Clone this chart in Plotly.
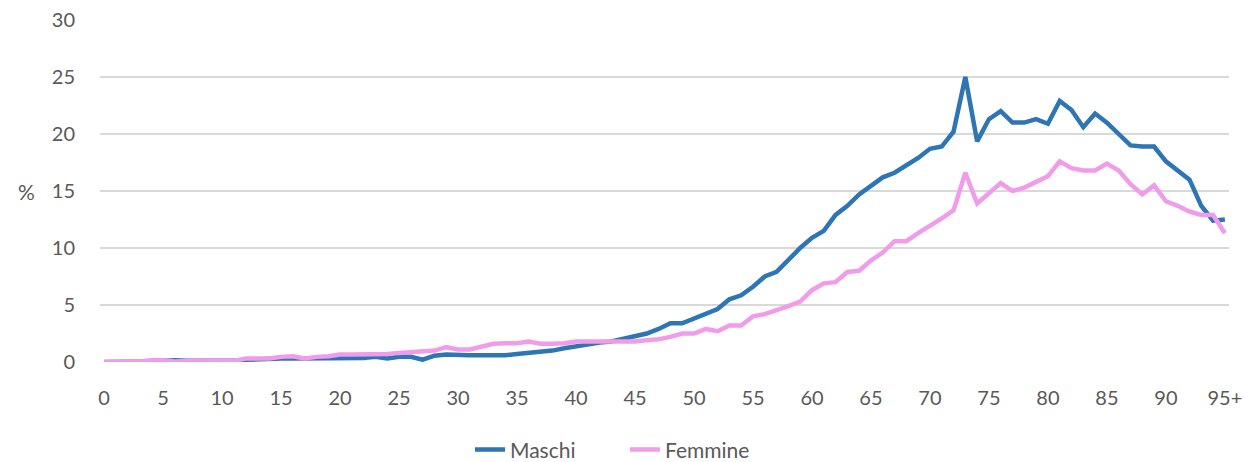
import plotly.graph_objects as go

ages = list(range(0, 96))
tick_vals = list(range(0, 96, 5))
tick_text = [str(v) for v in range(0, 95, 5)] + ["95+"]

maschi = [0, 0, 0, 0, 0.05, 0.1, 0.15, 0.1, 0.1, 0.1,
          0.1, 0.1, 0.2, 0.25, 0.25, 0.3, 0.3, 0.3, 0.35, 0.3,
          0.3, 0.3, 0.35, 0.45, 0.3, 0.45, 0.45, 0.2, 0.55, 0.65,
          0.6, 0.6, 0.6, 0.6, 0.6, 0.7, 0.8, 0.9, 1.0, 1.2,
          1.4, 1.5, 1.7, 1.8, 2.0, 2.3, 2.5, 2.9, 3.4, 3.4,
          3.8, 4.3, 4.65, 5.5, 5.85, 6.6, 7.5, 7.9, 9.0, 10.0,
          10.9, 11.5, 12.9, 13.7, 14.7, 15.5, 16.2, 16.6, 17.2, 17.9,
          18.7, 18.9, 20.2, 25.0, 19.35, 21.3, 22.0, 21.0, 21.0, 21.3,
          20.9, 22.9, 22.1, 20.6, 21.8, 21.0, 20.0, 19.0, 18.9, 18.9,
          17.6, 16.8, 16.0, 13.7, 12.4, 12.5]

femmine = [0, 0, 0, 0.05, 0.15, 0.15, 0.05, 0.1, 0.1, 0.1,
           0.1, 0.1, 0.3, 0.3, 0.3, 0.45, 0.5, 0.3, 0.45, 0.5,
           0.65, 0.65, 0.65, 0.65, 0.7, 0.8, 0.85, 0.95, 1.0, 1.3,
           1.1, 1.1, 1.4, 1.6, 1.65, 1.65, 1.8, 1.6, 1.6, 1.65,
           1.8, 1.8, 1.8, 1.8, 1.8, 1.8, 1.9, 2.0, 2.2, 2.5,
           2.5, 2.9, 2.7, 3.2, 3.2, 4.0, 4.2, 4.5, 4.9, 5.3,
           6.3, 6.9, 7.0, 7.9, 8.0, 8.9, 9.6, 10.6, 10.6, 11.3,
           11.9, 12.6, 13.3, 16.6, 13.9, 14.8, 15.7, 15.0, 15.3, 15.8,
           16.3, 17.6, 17.0, 16.8, 16.8, 17.4, 16.8, 15.6, 14.7, 15.5,
           14.1, 13.7, 13.2, 12.9, 12.9, 11.3]

FONT = "Lato, 'Open Sans', sans-serif"
GREY = "#595959"

fig = go.Figure()
fig.add_trace(go.Scatter(x=ages, y=maschi, mode="lines", name="Maschi",
                         line=dict(color="#2E75B6", width=4.5)))
fig.add_trace(go.Scatter(x=ages, y=femmine, mode="lines", name="Femmine",
                         line=dict(color="#F19CEA", width=4.5)))

fig.update_layout(
    width=1245, height=462,
    margin=dict(l=100, r=16, t=20, b=100, autoexpand=False),
    paper_bgcolor="white", plot_bgcolor="white",
    font=dict(family=FONT, size=20, color=GREY),
    showlegend=True,
    legend=dict(orientation="h", x=0.465, xanchor="center", y=-0.197, yanchor="top",
                font=dict(size=21, color=GREY), tracegroupgap=0,
                entrywidth=110, entrywidthmode="pixels"),
    xaxis=dict(range=[-0.35, 95.35], tickmode="array", tickvals=tick_vals, ticktext=tick_text,
               showgrid=False, zeroline=False, showline=False, ticks="", automargin=False,
               ticklabelstandoff=22, tickfont=dict(size=20, color=GREY)),
    yaxis=dict(range=[0, 30], tickvals=[0, 5, 10, 15, 20, 25, 30],
               showgrid=True, gridcolor="#D9D9D9", gridwidth=1.5, automargin=False,
               zeroline=False, showline=False, ticks="",
               ticklabelstandoff=24, tickfont=dict(size=20, color=GREY)),
    annotations=[dict(text="%", xref="paper", yref="paper", x=-0.065, y=0.5,
                      xanchor="center", yanchor="middle", showarrow=False,
                      font=dict(size=21, color=GREY))],
)

fig.write_html(
    "out.html",
    config={"displayModeBar": False},
    post_script="document.body.style.margin='0';document.body.style.padding='0';document.body.style.overflow='hidden';",
)
